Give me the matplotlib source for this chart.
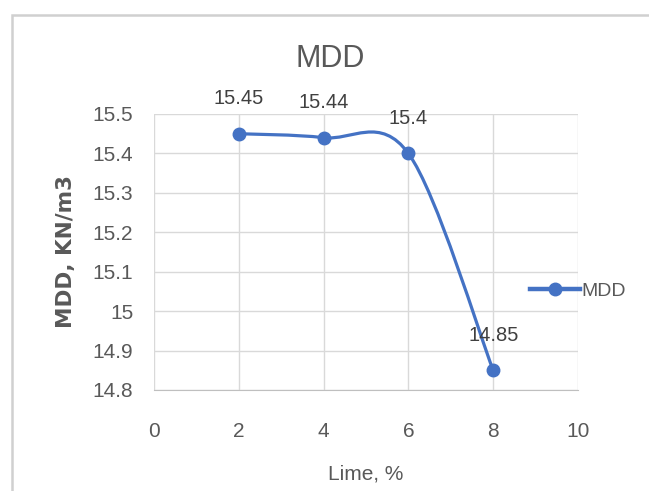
"""MDD vs lime content, Excel-style smoothed scatter."""
import numpy as np
import matplotlib
matplotlib.use("Agg")
import matplotlib.pyplot as plt
from matplotlib.path import Path
from matplotlib.patches import PathPatch, Rectangle
from matplotlib.lines import Line2D

lime = [2, 4, 6, 8]
mdd = [15.45, 15.44, 15.4, 14.85]
labels = ["15.45", "15.44", "15.4", "14.85"]
x_ticks = [0, 2, 4, 6, 8, 10]
y_ticks = [14.8, 14.9, 15.0, 15.1, 15.2, 15.3, 15.4, 15.5]
y_tick_labels = ["14.8", "14.9", "15", "15.1", "15.2", "15.3", "15.4", "15.5"]

BLUE = "#4472C4"
TEXT = "#595959"
GRID = "#D9D9D9"
FONT = ["Liberation Sans Narrow", "Liberation Sans", "DejaVu Sans"]

plt.rcParams["font.family"] = FONT


def smooth_path(xs, ys):
    # Excel-like smoothing: cubic Bezier segments with Catmull-Rom control points
    pts = np.column_stack([xs, ys]).astype(float)
    n = len(pts)
    verts = [pts[0]]
    codes = [Path.MOVETO]
    for i in range(n - 1):
        p0 = pts[i - 1] if i > 0 else pts[i]
        p1 = pts[i]
        p2 = pts[i + 1]
        p3 = pts[i + 2] if i + 2 < n else pts[i + 1]
        c1 = p1 + (p2 - p0) / 6.0
        c2 = p2 - (p3 - p1) / 6.0
        verts += [c1, c2, p2]
        codes += [Path.CURVE4] * 3
    return Path(verts, codes)


fig = plt.figure(figsize=(6.49, 4.91), dpi=100)
ax = fig.add_axes([154 / 649, 1 - 390 / 491, (578 - 154) / 649, (390 - 114) / 491])

# outer chart frame
fig.patches.append(Rectangle((12 / 649, -0.1), 1.2, 1.1 - 15 / 491,
                             transform=fig.transFigure, fill=False,
                             edgecolor="#D0D0D0", linewidth=1.8))

ax.add_patch(PathPatch(smooth_path(lime, mdd), facecolor="none",
                       edgecolor=BLUE, linewidth=2.3, zorder=3))
ax.plot(lime, mdd, linestyle="none", marker="o", markersize=9,
        color=BLUE, zorder=4)

for x, y, s in zip(lime, mdd, labels):
    ax.annotate(s, (x, y), xytext=(0, 25), textcoords="offset points",
                ha="center", va="center", fontsize=14.5, color="#404040")

ax.set_xlim(0, 10)
ax.set_ylim(14.8, 15.5)
ax.set_xticks(x_ticks)
ax.set_yticks(y_ticks)
ax.set_yticklabels(y_tick_labels)
ax.tick_params(length=0, labelsize=15, labelcolor=TEXT)
ax.tick_params(axis="x", pad=23)
ax.tick_params(axis="y", pad=15)
ax.grid(True, color=GRID, linewidth=1)
for side in ["top", "right", "left"]:
    ax.spines[side].set_visible(False)
ax.spines["bottom"].set_color("#BFBFBF")

# chart title is centred over the whole chart area, not the plot area
fig.text(330 / 649, 1 - 59 / 491, "MDD", fontsize=22, color=TEXT,
         ha="center", va="center")
ax.set_xlabel("Lime, %", fontsize=15, color=TEXT, labelpad=17)
ax.set_ylabel("MDD, KN/m3", fontsize=15.5, color=TEXT, fontweight="bold",
              family="DejaVu Sans", labelpad=12)

handle = Line2D([], [], color=BLUE, linewidth=3.2, marker="o", markersize=9)
fig.legend([handle], ["MDD"], loc="center left",
           bbox_to_anchor=(520 / 649, 1 - 291 / 491), frameon=False,
           fontsize=14, handlelength=2.6, handletextpad=0.05, borderpad=0,
           labelcolor=TEXT)

fig.savefig("out.png", dpi=100)
